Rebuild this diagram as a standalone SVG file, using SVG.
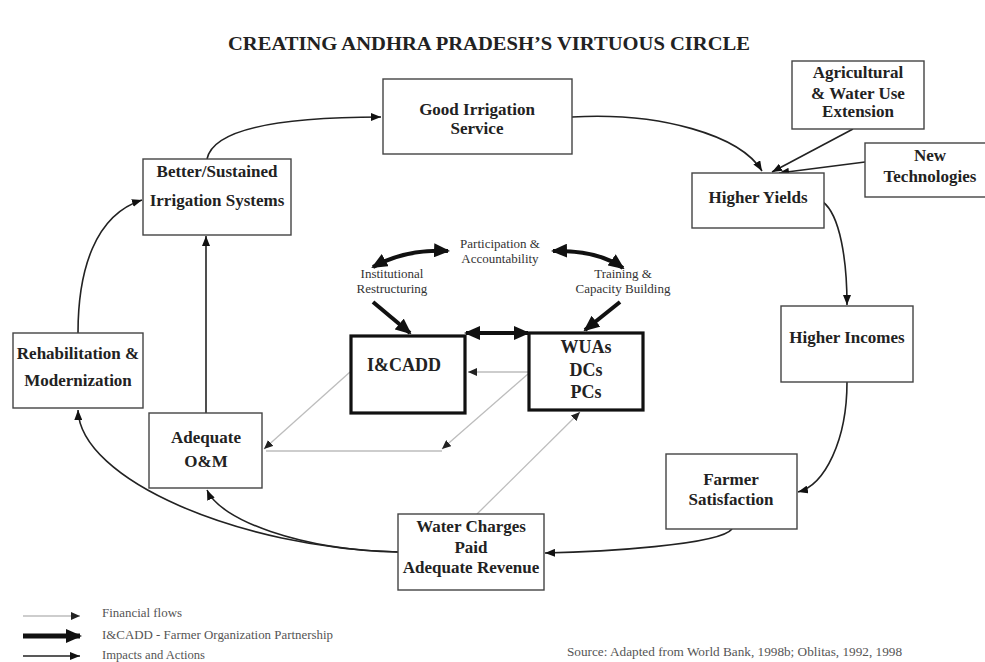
<svg xmlns="http://www.w3.org/2000/svg" width="985" height="662" viewBox="0 0 985 662">
<style>
.box{fill:#fff;stroke:#444;stroke-width:1.4}
.tbox{fill:#fff;stroke:#111;stroke-width:3.2}
.bt{font-family:"Liberation Serif","Times New Roman",serif;font-weight:bold;font-size:17px;fill:#222;text-anchor:middle}
.bt18{font-size:18px}
.lab{font-family:"Liberation Serif","Times New Roman",serif;font-size:13px;fill:#333;text-anchor:middle}
.leg{font-family:"Liberation Serif","Times New Roman",serif;font-size:12.5px;fill:#555}
.imp{fill:none;stroke:#222;stroke-width:1.6;marker-end:url(#ah)}
.thk{fill:none;stroke:#111;stroke-width:4}
.fin{fill:none;stroke:#bdbdbd;stroke-width:1.3}
</style>
<defs>
<marker id="ah" markerUnits="userSpaceOnUse" markerWidth="10" markerHeight="8" refX="10" refY="4" orient="auto"><path d="M0,0 L10,4 L0,8 z" fill="#111"/></marker>
<marker id="th" markerUnits="userSpaceOnUse" markerWidth="16" markerHeight="14" refX="14" refY="7" orient="auto-start-reverse"><path d="M0,0 L16,7 L0,14 z" fill="#111"/></marker>
<marker id="fh" markerUnits="userSpaceOnUse" markerWidth="9" markerHeight="8" refX="9" refY="4" orient="auto"><path d="M0,0 L9,4 L0,8 z" fill="#222"/></marker>
</defs>
<rect width="985" height="662" fill="#fff"/>
<text x="228" y="50" textLength="522" lengthAdjust="spacingAndGlyphs" style="font-family:'Liberation Serif','Times New Roman',serif;font-weight:bold;font-size:19px;fill:#222">CREATING ANDHRA PRADESH’S VIRTUOUS CIRCLE</text>

<g id="connectors">
<path class="imp" d="M207,159 C214,124 300,117 381,117"/>
<path class="imp" d="M572,117 C660,112 740,135 762,171"/>
<path class="imp" d="M853,129 L772,172"/>
<path class="imp" d="M865,162 L779,173"/>
<path class="imp" d="M823,202 C840,215 847,260 847,305"/>
<path class="imp" d="M847,382 C847,440 825,485 798,492"/>
<path class="imp" d="M732,529 C720,545 600,552 545,553"/>
<path class="imp" d="M398,552 C240,548 80,480 78,410"/>
<path class="imp" d="M398,552 C300,550 220,520 207,490"/>
<path class="imp" d="M206,413 L206,236"/>
<path class="imp" d="M78,333 C78,270 95,215 142,200"/>
<path class="thk" d="M373,267 Q405,249 448,251" marker-start="url(#th)" marker-end="url(#th)"/>
<path class="thk" d="M553,251 Q598,250 623,268" marker-start="url(#th)" marker-end="url(#th)"/>
<path class="thk" d="M373,302 L410,333" marker-end="url(#th)"/>
<path class="thk" d="M620,302 L585,330" marker-end="url(#th)"/>
<path class="thk" d="M466,333 L528,333" marker-start="url(#th)" marker-end="url(#th)"/>
<path class="fin" d="M528,372 L468,372" marker-end="url(#fh)"/>
<path class="fin" d="M350,372 L264,449" marker-end="url(#fh)"/>
<path class="fin" d="M528,374 L442,449" marker-end="url(#fh)"/>
<path class="fin" d="M442,451 L266,451"/>
<path class="fin" d="M477,514 L580,412" marker-end="url(#fh)"/>
</g>

<g id="good"><rect class="box" x="383" y="79" width="189" height="75"/><text class="bt" x="477" y="115">Good Irrigation</text><text class="bt" x="477" y="134">Service</text></g>
<g id="better"><rect class="box" x="143" y="159" width="148" height="76"/><text class="bt" x="217" y="177">Better/Sustained</text><text class="bt" x="217" y="206">Irrigation Systems</text></g>
<g id="agri"><rect class="box" x="792" y="61" width="132" height="68"/><text class="bt" x="858" y="78">Agricultural</text><text class="bt" x="858" y="99">&amp; Water Use</text><text class="bt" x="858" y="117">Extension</text></g>
<g id="newtech"><rect class="box" x="865" y="143" width="125" height="54"/><text class="bt" x="930" y="161">New</text><text class="bt" x="930" y="182">Technologies</text></g>
<g id="yields"><rect class="box" x="692" y="173" width="132" height="55"/><text class="bt" x="758" y="203">Higher Yields</text></g>
<g id="incomes"><rect class="box" x="781" y="306" width="132" height="76"/><text class="bt" x="847" y="343">Higher Incomes</text></g>
<g id="farmer"><rect class="box" x="666" y="454" width="131" height="75"/><text class="bt" x="731" y="485">Farmer</text><text class="bt" x="731" y="505">Satisfaction</text></g>
<g id="rehab"><rect class="box" x="13" y="333" width="130" height="75"/><text class="bt" x="78" y="359">Rehabilitation &amp;</text><text class="bt" x="78" y="386">Modernization</text></g>
<g id="om"><rect class="box" x="149" y="413" width="113" height="75"/><text class="bt" x="206" y="443">Adequate</text><text class="bt" x="206" y="467">O&amp;M</text></g>
<g id="water"><rect class="box" x="398" y="514" width="146" height="76"/><text class="bt" x="471" y="532">Water Charges</text><text class="bt" x="471" y="553">Paid</text><text class="bt" x="471" y="573">Adequate Revenue</text></g>
<g id="icadd"><rect class="tbox" x="351" y="336" width="114" height="77"/><text class="bt bt18" x="404" y="371">I&amp;CADD</text></g>
<g id="wua"><rect class="tbox" x="529" y="333" width="114" height="77"/><text class="bt bt18" x="586" y="353">WUAs</text><text class="bt bt18" x="586" y="376">DCs</text><text class="bt bt18" x="586" y="398">PCs</text></g>
<g id="participation"><text class="lab" x="500" y="248">Participation &amp;</text><text class="lab" x="500" y="263">Accountability</text></g>
<g id="institutional"><text class="lab" x="392" y="278">Institutional</text><text class="lab" x="392" y="293">Restructuring</text></g>
<g id="training"><text class="lab" x="623" y="278">Training &amp;</text><text class="lab" x="623" y="293">Capacity Building</text></g>

<g id="legend">
<path class="fin" d="M23,616 L80,616" marker-end="url(#fh)"/>
<path class="thk" d="M23,636 L80,636" style="stroke-width:5" marker-end="url(#th)"/>
<path class="imp" d="M23,656 L80,656"/>
<text class="leg" x="102" y="617" textLength="80" lengthAdjust="spacingAndGlyphs">Financial flows</text>
<text class="leg" x="102" y="639" textLength="231" lengthAdjust="spacingAndGlyphs">I&amp;CADD - Farmer Organization Partnership</text>
<text class="leg" x="102" y="659" textLength="103" lengthAdjust="spacingAndGlyphs">Impacts and Actions</text>
<text class="leg" x="567" y="656" textLength="335" lengthAdjust="spacingAndGlyphs">Source:  Adapted from World Bank, 1998b; Oblitas, 1992, 1998</text>
</g>
</svg>
